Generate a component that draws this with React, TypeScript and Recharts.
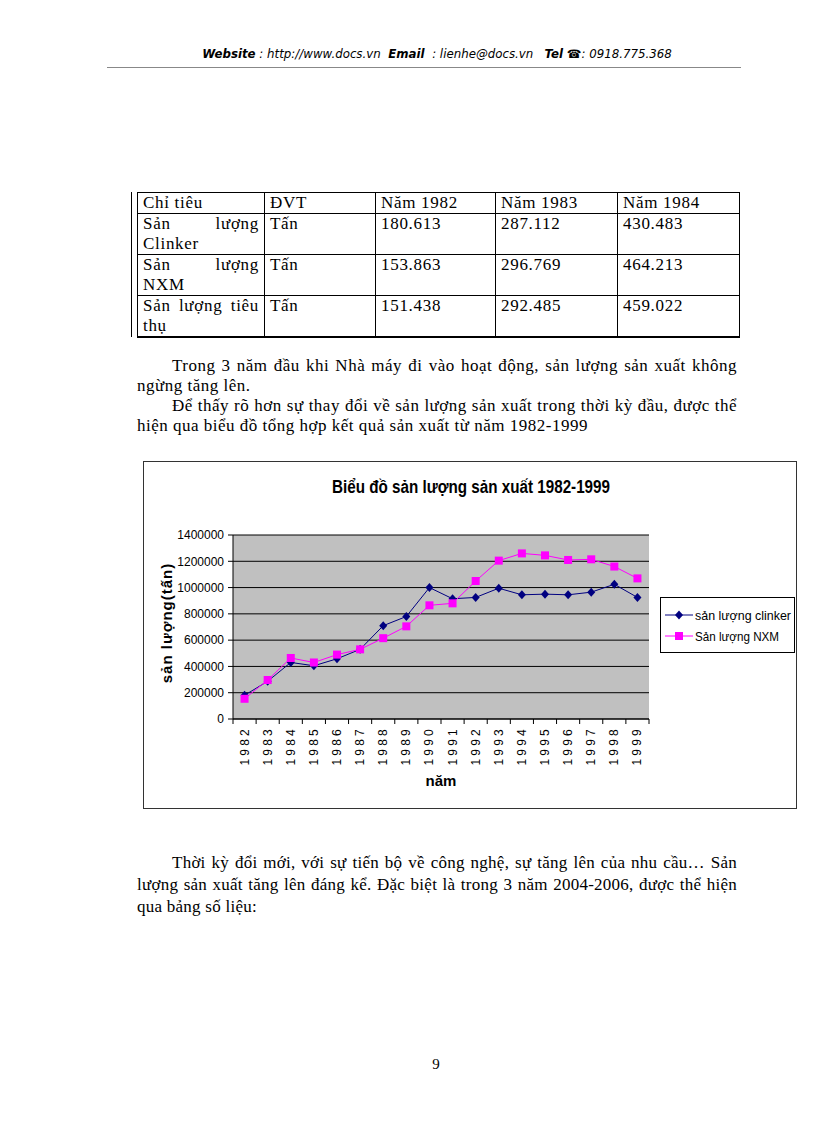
import React from 'react';
import {
  ComposedChart,
  Line,
  XAxis,
  YAxis,
  CartesianGrid,
} from 'recharts';

const years = ['1982', '1983', '1984', '1985', '1986', '1987', '1988', '1989', '1990', '1991', '1992', '1993', '1994', '1995', '1996', '1997', '1998', '1999'];
const clinker = [180613, 287112, 430483, 405000, 458000, 530000, 710000, 780000, 1000000, 915000, 925000, 995000, 945000, 950000, 945000, 965000, 1025000, 925000];
const nxm = [153863, 296769, 464213, 430000, 490000, 530000, 615000, 705000, 865000, 880000, 1050000, 1205000, 1260000, 1245000, 1210000, 1215000, 1160000, 1070000];
const yTicks = [0, 200000, 400000, 600000, 800000, 1000000, 1200000, 1400000];

const tableHead = ['Chỉ tiêu', 'ĐVT', 'Năm 1982', 'Năm 1983', 'Năm 1984'];
const tableRows = [
  ['Sản lượng Clinker', 'Tấn', '180.613', '287.112', '430.483'],
  ['Sản lượng NXM', 'Tấn', '153.863', '296.769', '464.213'],
  ['Sản lượng tiêu thụ', 'Tấn', '151.438', '292.485', '459.022'],
];
const colWidths = [127, 111, 120, 122, 122];

const data = years.map((y, i) => ({ year: y, clinker: clinker[i], nxm: nxm[i] }));

const serif = '"Liberation Serif", "Times New Roman", serif';
const sans = '"Liberation Sans", Arial, sans-serif';

// chart geometry
const CW = 652;
const CH = 346;
const M = { top: 73, right: 147, left: 0, bottom: 31 };
const YW = 89;
const BAND = (CW - M.right - M.left - YW) / years.length;

const Diamond = (props: any) => {
  const { cx, cy } = props;
  if (cx == null || cy == null) return null;
  return <path d={`M${cx},${cy - 4.5}L${cx + 4},${cy}L${cx},${cy + 4.5}L${cx - 4},${cy}Z`} fill="#000080" />;
};

const Square = (props: any) => {
  const { cx, cy } = props;
  if (cx == null || cy == null) return null;
  return <rect x={cx - 4} y={cy - 4} width={8} height={8} fill="#ff00ff" />;
};

const YearTick = (props: any) => {
  const { x, y, payload, index } = props;
  return (
    <g>
      <line x1={x - BAND / 2} y1={y} x2={x - BAND / 2} y2={y + 5} stroke="#000" />
      {index === years.length - 1 && <line x1={x + BAND / 2} y1={y} x2={x + BAND / 2} y2={y + 5} stroke="#000" />}
      <text
        transform={`translate(${x + 4},${y + 7}) rotate(-90)`}
        textAnchor="end"
        fontSize={12}
        fontFamily={sans}
        fill="#000"
        letterSpacing={3.2}
      >
        {payload.value}
      </text>
    </g>
  );
};

const LegendBox = () => (
  <div style={{ position: 'absolute', left: 516, top: 135, width: 133, height: 54, border: '1px solid #000', background: '#fff' }}>
    <svg width={133} height={54} style={{ display: 'block' }}>
      <line x1={4} y1={17} x2={32} y2={17} stroke="#000080" strokeWidth={1} />
      <path d="M18,12.5L22,17L18,21.5L14,17Z" fill="#000080" />
      <text x={34} y={22} fontFamily={sans} fontSize={12} fill="#000" textLength={96} lengthAdjust="spacingAndGlyphs">sản lượng clinker</text>
      <line x1={4} y1={38} x2={32} y2={38} stroke="#ff00ff" strokeWidth={1} />
      <rect x={14} y={34} width={8} height={8} fill="#ff00ff" />
      <text x={34} y={43} fontFamily={sans} fontSize={12} fill="#000" textLength={84} lengthAdjust="spacingAndGlyphs">Sản lượng NXM</text>
    </svg>
  </div>
);

const pText: React.CSSProperties = {
  position: 'absolute',
  left: 137,
  width: 600,
  fontFamily: serif,
  fontSize: 17,
  letterSpacing: 0.5,
  textAlign: 'justify',
  margin: 0,
};

export default function App() {
  return (
    <div style={{ position: 'absolute', left: 0, top: 0, width: 816, height: 1123, background: '#fff', color: '#000' }}>
      {/* header */}
      <div style={{ position: 'absolute', left: 120, top: 47, width: 634, textAlign: 'center', fontFamily: '"DejaVu Sans", Tahoma, sans-serif', fontSize: 11.8, fontStyle: 'italic' }}>
        <b>Website</b> : http://www.docs.vn&nbsp; <b>Email</b>&nbsp; : lienhe@docs.vn&nbsp;&nbsp; <b>Tel</b> ☎: 0918.775.368
      </div>
      <div style={{ position: 'absolute', left: 107, top: 67, width: 634, height: 1, background: '#888' }} />

      {/* table */}
      <div style={{ position: 'absolute', left: 131, top: 192, width: 1, height: 145, background: '#000' }} />
      <table style={{ position: 'absolute', left: 137, top: 192, width: 602, borderCollapse: 'collapse', fontFamily: serif, fontSize: 17, letterSpacing: 0.7, tableLayout: 'fixed' }}>
        <colgroup>
          {colWidths.map((w, i) => <col key={i} style={{ width: w }} />)}
        </colgroup>
        <tbody>
          <tr style={{ height: 21 }}>
            {tableHead.map((h, i) => (
              <td key={i} style={{ border: '1px solid #000', padding: '0 5px', verticalAlign: 'top', lineHeight: '20px' }}>{h}</td>
            ))}
          </tr>
          {tableRows.map((r, ri) => (
            <tr key={ri} style={{ height: 41 }}>
              {r.map((c, i) => (
                <td key={i} style={{ border: '1px solid #000', borderBottom: ri === 2 ? '2px solid #000' : '1px solid #000', padding: '0 5px', verticalAlign: 'top', lineHeight: '20px', textAlign: i === 0 ? 'justify' : 'left' }}>{c}</td>
              ))}
            </tr>
          ))}
        </tbody>
      </table>

      {/* paragraphs */}
      <p style={{ ...pText, top: 356, lineHeight: '20px' }}>
        <span style={{ display: 'inline-block', width: 35 }} />Trong 3 năm đầu khi Nhà máy đi vào hoạt động, sản lượng sản xuất không ngừng tăng lên.
      </p>
      <p style={{ ...pText, top: 396, lineHeight: '20px' }}>
        <span style={{ display: 'inline-block', width: 35 }} />Để thấy rõ hơn sự thay đổi về sản lượng sản xuất trong thời kỳ đầu, được thể hiện qua biểu đồ tổng hợp kết quả sản xuất từ năm 1982-1999
      </p>

      {/* chart */}
      <div style={{ position: 'absolute', left: 143, top: 461, width: CW, height: CH, border: '1px solid #333', background: '#fff' }}>
        <svg width={CW} height={40} style={{ position: 'absolute', left: 0, top: 0 }}>
          <text x={327} y={31} textAnchor="middle" fontFamily={sans} fontWeight="bold" fontSize={18} fill="#000" textLength={278} lengthAdjust="spacingAndGlyphs">Biểu đồ sản lượng sản xuất 1982-1999</text>
        </svg>
        <div style={{ position: 'absolute', left: 0, top: 0 }}>
          <ComposedChart width={CW} height={CH} data={data} margin={M}>
            <CartesianGrid vertical={false} horizontal stroke="#000" strokeOpacity={1} fill="#c0c0c0" fillOpacity={1} />
            <XAxis
              dataKey="year"
              scale="band"
              height={58}
              tick={<YearTick />}
              tickLine={false}
              tickSize={0}
              tickMargin={0}
              axisLine={{ stroke: '#000' }}
              interval={0}
              label={() => (
                <text x={297} y={324} textAnchor="middle" fontFamily={sans} fontWeight="bold" fontSize={15} fill="#000">năm</text>
              )}
            />
            <YAxis
              width={YW}
              domain={[0, 1400000]}
              ticks={yTicks}
              interval={0}
              tickSize={5}
              tickMargin={4}
              axisLine={{ stroke: '#000' }}
              tickLine={{ stroke: '#000' }}
              tick={{ fill: '#000', fontSize: 12, fontFamily: sans }}
              label={() => (
                <text transform={`translate(28,${73 + 88}) rotate(-90)`} textAnchor="middle" fontFamily={sans} fontWeight="bold" fontSize={15} letterSpacing={1} fill="#000">sản lượng(tấn)</text>
              )}
            />
            <Line
              dataKey="clinker"
              name="sản lượng clinker"
              stroke="#000080"
              strokeWidth={1}
              dot={<Diamond />}
              activeDot={false}
              isAnimationActive={false}
            />
            <Line
              dataKey="nxm"
              name="Sản lượng NXM"
              stroke="#ff00ff"
              strokeWidth={1}
              dot={<Square />}
              activeDot={false}
              isAnimationActive={false}
            />
          </ComposedChart>
        </div>
        <LegendBox />
      </div>

      {/* paragraph after */}
      <p style={{ ...pText, top: 852, lineHeight: '22px', letterSpacing: 0.25 }}>
        <span style={{ display: 'inline-block', width: 35 }} />Thời kỳ đổi mới, với sự tiến bộ về công nghệ, sự tăng lên của nhu cầu… Sản lượng sản xuất tăng lên đáng kể. Đặc biệt là trong 3 năm 2004-2006, được thể hiện qua bảng số liệu:
      </p>

      {/* page number */}
      <div style={{ position: 'absolute', left: 426, top: 1056, width: 20, textAlign: 'center', fontFamily: serif, fontSize: 15 }}>9</div>
    </div>
  );
}
